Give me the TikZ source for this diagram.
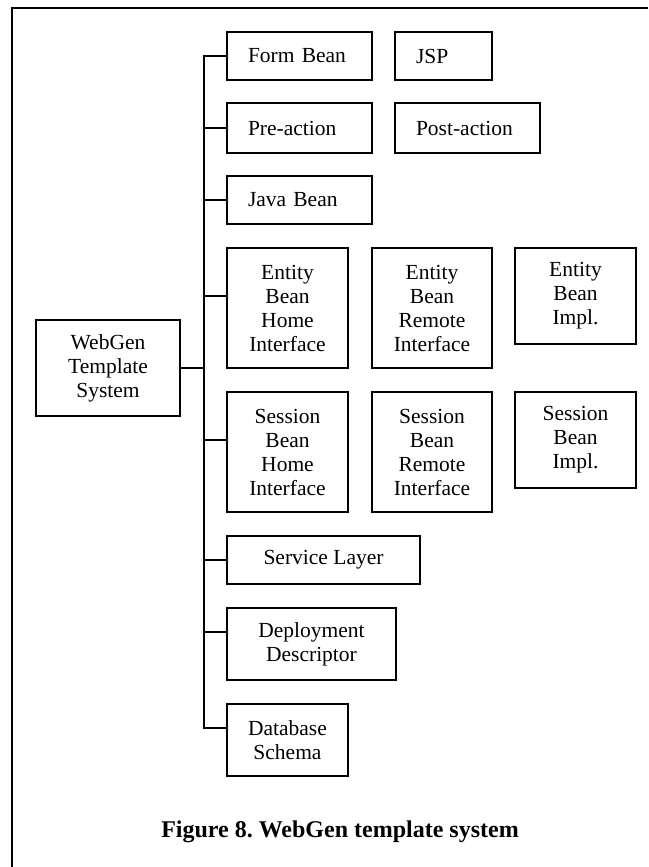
\documentclass[tikz,border=0pt]{standalone}
\usepackage{fontspec}
\setmainfont{Liberation Serif}
\usetikzlibrary{calc}
\frenchspacing
\begin{document}
\begin{tikzpicture}[x=1pt,y=-1pt,line width=2pt,
  box/.style={draw,rectangle,inner sep=0pt,align=center,
    font=\fontsize{21.5}{24}\selectfont},
  lbox/.style={box,align=left,inner xsep=21pt},
  link/.style={draw,line join=miter}]
\useasboundingbox (0,0) rectangle (648,867);
% outer frame (top and left edges)
\draw (12,867) -- (12,8) -- (648,8);

% root
\node[box,minimum width=144pt,minimum height=96pt] (web) at (108,368) {WebGen\\Template\\System};

% generated artefacts
\node[lbox,text width=103pt,minimum height=48pt] (form) at (299.5,56) {Form Bean};
\node[lbox,text width=55pt,minimum height=48pt] (jsp) at (443.5,56) {JSP};
\node[lbox,text width=103pt,minimum height=50pt] (pre) at (299.5,128) {Pre-action};
\node[lbox,text width=103pt,minimum height=50pt] (post) at (467.5,128) {Post-action};
\node[lbox,text width=103pt,minimum height=48pt] (java) at (299.5,200) {Java Bean};

\node[box,minimum width=121pt,minimum height=120pt] (ehome) at (287.5,308) {Entity\\Bean\\Home\\Interface};
\node[box,minimum width=120pt,minimum height=120pt] (eremote) at (432,308) {Entity\\Bean\\Remote\\Interface};
\node[box,minimum width=121pt,minimum height=96pt] (eimpl) at (575.5,296) {Entity\\Bean\\Impl.};

\node[box,minimum width=121pt,minimum height=120pt] (shome) at (287.5,452) {Session\\Bean\\Home\\Interface};
\node[box,minimum width=120pt,minimum height=120pt] (sremote) at (432,452) {Session\\Bean\\Remote\\Interface};
\node[box,minimum width=121pt,minimum height=96pt] (simpl) at (575.5,440) {Session\\Bean\\Impl.};

\node[box,minimum width=193pt,minimum height=48pt] (service) at (323.5,560) {Service Layer};
\node[box,minimum width=169pt,minimum height=72pt] (deploy) at (311.5,644) {Deployment\\Descriptor};
\node[box,minimum width=121pt,minimum height=72pt] (db) at (287.5,740) {Database\\Schema};

% caption
\node[anchor=base,font=\fontsize{24}{28}\selectfont\bfseries] (cap) at (340,837) {Figure 8. WebGen template system};

% attachment points on the left sides
\coordinate (tr) at (204,0);
\coordinate (ea) at ($(ehome.north west)!0.4!(ehome.south west)$);
\coordinate (sa) at ($(shome.north west)!0.4!(shome.south west)$);
\coordinate (da) at ($(deploy.north west)!0.33333!(deploy.south west)$);
\coordinate (ba) at ($(db.north west)!0.33333!(db.south west)$);

% trunk with the first and last branches
\draw[link] (form.west) -- (form.west -| tr) -- (ba -| tr) -- (ba);
% remaining branches
\draw[link] (pre.west -| tr) -- (pre.west);
\draw[link] (java.west -| tr) -- (java.west);
\draw[link] (ea -| tr) -- (ea);
\draw[link] (sa -| tr) -- (sa);
\draw[link] (service.west -| tr) -- (service.west);
\draw[link] (da -| tr) -- (da);
\draw[link] (web.east) -- (web.east -| tr);
\end{tikzpicture}
\end{document}
